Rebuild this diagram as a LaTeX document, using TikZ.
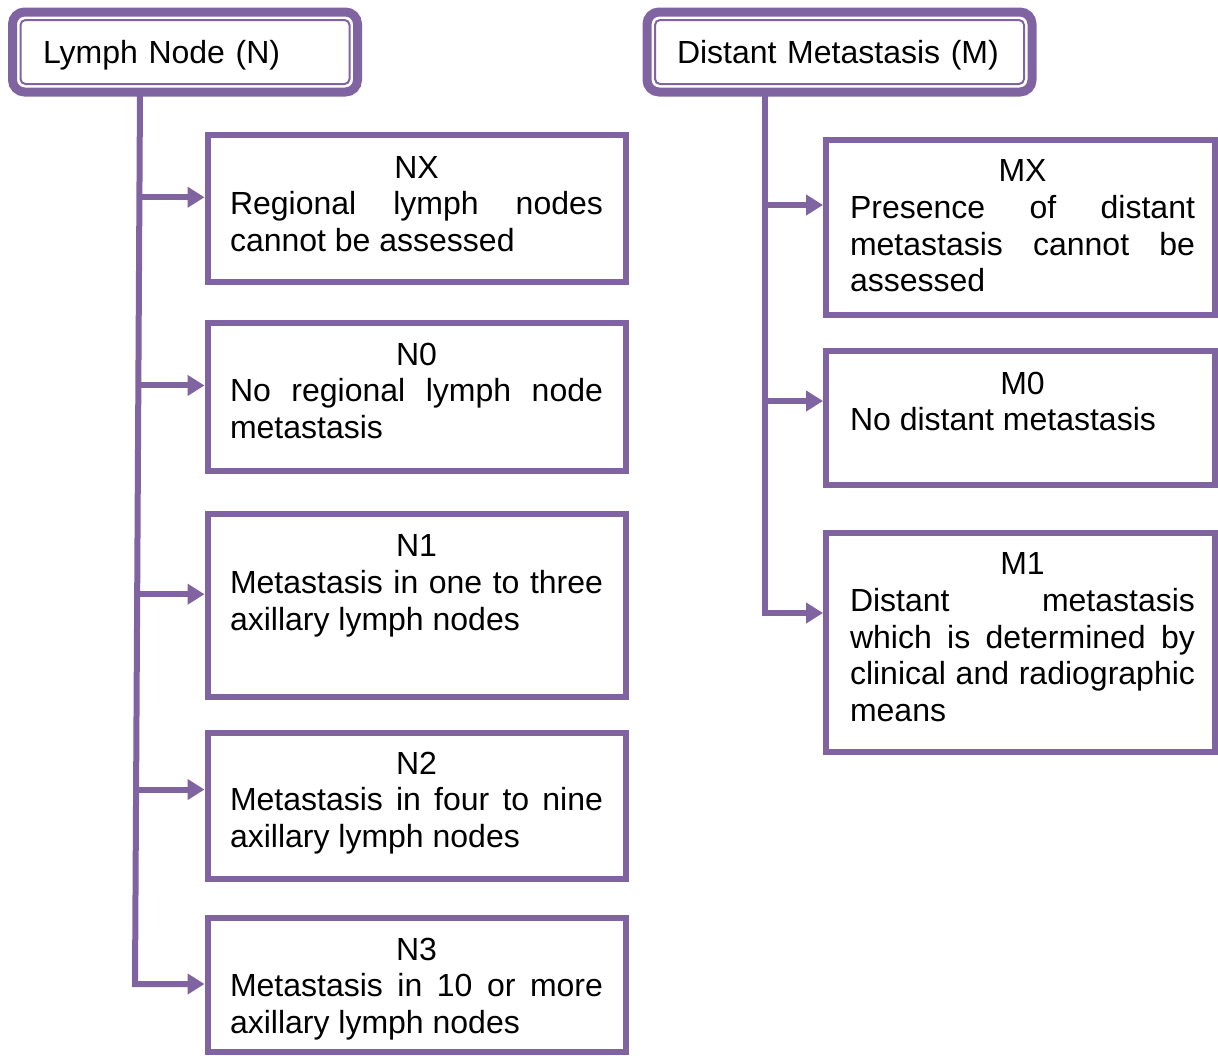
\documentclass[tikz,border=0pt]{standalone}
\usepackage{fontspec}
\setmainfont{Liberation Sans}
\usetikzlibrary{arrows.meta,calc}
\definecolor{pur}{HTML}{8064A2}
\begin{document}
\begin{tikzpicture}[x=1pt,y=-1pt,
  txtfont/.style={font=\fontsize{32}{36.75}\selectfont},
  header/.style={draw=pur,line width=9pt,rounded corners=12pt,fill=white,txtfont,outer sep=0pt,
    align=left,inner ysep=0pt,text height=23pt,text depth=0pt},
  innerline/.style={draw=pur,line width=2pt,rounded corners=5pt},
  lbox/.style={draw=pur,line width=6pt,fill=white,minimum width=418pt,inner sep=0pt},
  rbox/.style={draw=pur,line width=6pt,fill=white,minimum width=389pt,inner sep=0pt},
  ltext/.style={txtfont,text width=373pt,align=justify,inner sep=0pt,anchor=north,
    execute at begin node={\setlength{\parindent}{0pt}\tolerance=10000\hbadness=10000}},
  rtext/.style={ltext,text width=345pt},
  conn/.style={draw=pur,line width=6pt,-{Triangle[length=17pt,width=20pt]}},
]
\fill[white] (0,0) rectangle (1218,1055);
\useasboundingbox (0,0) rectangle (1218,1055);

% headers
\node[header,minimum width=345pt,minimum height=80pt,inner xsep=30.5pt,text width=284pt] (h1) at (185,52) {Lymph Node (N)};
\draw[innerline] ($(h1.north west)+(8,8)$) rectangle ($(h1.south east)+(-8,-8)$);
\node[header,minimum width=385pt,minimum height=80pt,inner xsep=30pt,text width=325pt] (h2) at (839.5,52) {Distant Metastasis (M)};
\draw[innerline] ($(h2.north west)+(8,8)$) rectangle ($(h2.south east)+(-8,-8)$);

% left boxes
\node[lbox,minimum height=146.5pt] (nx) at (416.5,208.25) {};
\node[lbox,minimum height=148pt] (n0) at (416.5,396.5) {};
\node[lbox,minimum height=183pt] (n1) at (416.5,605) {};
\node[lbox,minimum height=146pt] (n2) at (416.5,805.5) {};
\node[lbox,minimum height=134pt] (n3) at (416.5,984.5) {};

\node[ltext] (nxt) at ($(nx.north)+(0,24)$) {{\centering NX\par}Regional lymph nodes\linebreak cannot be assessed};
\node[ltext] (n0t) at ($(n0.north)+(0,23)$) {{\centering N0\par}No regional lymph node\linebreak metastasis};
\node[ltext] (n1t) at ($(n1.north)+(0,24)$) {{\centering N1\par}Metastasis in one to three\linebreak axillary lymph nodes};
\node[ltext] (n2t) at ($(n2.north)+(0,22)$) {{\centering N2\par}Metastasis in four to nine\linebreak axillary lymph nodes};
\node[ltext] (n3t) at ($(n3.north)+(0,23)$) {{\centering N3\par}Metastasis in 10 or more\linebreak axillary lymph nodes};

% right boxes
\node[rbox,minimum height=175pt] (mx) at (1020.5,227) {};
\node[rbox,minimum height=134pt] (m0) at (1020.5,417.5) {};
\node[rbox,minimum height=219pt] (m1) at (1020.5,642) {};

\node[rtext] (mxt) at ($(mx.north)+(2,23)$) {{\centering MX\par}Presence of distant\linebreak metastasis cannot be\linebreak assessed};
\node[rtext] (m0t) at ($(m0.north)+(2,24)$) {{\centering M0\par}No distant metastasis};
\node[rtext] (m1t) at ($(m1.north)+(2,23)$) {{\centering M1\par}Distant metastasis\linebreak which is determined by\linebreak clinical and radiographic\linebreak means};

% left trunk
\coordinate (lx) at (140,0);
\coordinate (ltop) at (h1.south -| lx);
\coordinate (lbot) at (135,984);
\draw[conn] (ltop) -- (lbot) -- (lbot -| n3.west);
\coordinate (lpx) at ($(ltop)!0.118!(lbot)$);
\coordinate (lp0) at ($(ltop)!0.329!(lbot)$);
\coordinate (lp1) at ($(ltop)!0.563!(lbot)$);
\coordinate (lp2) at ($(ltop)!0.782!(lbot)$);
\draw[conn] (lpx) -- (lpx -| nx.west);
\draw[conn] (lp0) -- (lp0 -| n0.west);
\draw[conn] (lp1) -- (lp1 -| n1.west);
\draw[conn] (lp2) -- (lp2 -| n2.west);

% right trunk
\coordinate (rx) at (765,0);
\coordinate (rtop) at (h2.south -| rx);
\coordinate (rbot) at (765,613);
\draw[conn] (rtop) -- (rbot) -- (rbot -| m1.west);
\coordinate (rpx) at (765,205);
\coordinate (rp0) at (765,401);
\draw[conn] (rpx) -- (rpx -| mx.west);
\draw[conn] (rp0) -- (rp0 -| m0.west);
\end{tikzpicture}
\end{document}
